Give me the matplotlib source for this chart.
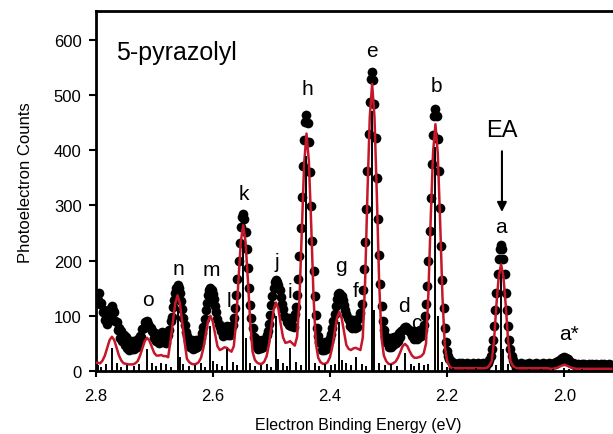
import numpy as np
import matplotlib.pyplot as plt

plt.rcParams['font.family'] = ['Liberation Sans', 'DejaVu Sans']

# photoelectron counts, 2 meV steps starting at 2.800 eV
counts = [
    125, 138, 128, 142, 122, 124, 106, 110, 92, 96,
    86, 100, 98, 114, 118, 110, 106, 90, 88, 74,
    78, 60, 72, 54, 66, 48, 62, 42, 56, 38,
    52, 40, 54, 40, 54, 44, 58, 50, 64, 62,
    76, 78, 88, 86, 90, 86, 82, 78, 72, 70,
    60, 68, 54, 66, 50, 66, 56, 70, 52, 64,
    50, 62, 66, 74, 90, 98, 116, 128, 142, 150,
    155, 150, 142, 126, 112, 96, 84, 70, 64, 54,
    56, 44, 56, 40, 54, 42, 56, 44, 56, 50,
    60, 68, 80, 94, 110, 124, 138, 146, 150, 147,
    140, 130, 118, 106, 94, 86, 80, 72, 76, 64,
    80, 68, 82, 66, 80, 66, 76, 84, 96, 114,
    138, 167, 200, 232, 260, 279, 285, 275, 252, 221,
    186, 151, 120, 96, 78, 62, 60, 46, 56, 40,
    54, 42, 56, 44, 56, 54, 66, 73, 86, 102,
    119, 136, 151, 161, 165, 162, 156, 146, 134, 122,
    112, 100, 98, 88, 92, 84, 96, 82, 94, 80,
    103, 116, 137, 167, 208, 259, 315, 371, 418, 451,
    463, 450, 414, 361, 299, 236, 181, 135, 101, 78,
    63, 52, 50, 38, 50, 38, 52, 40, 52, 52,
    59, 67, 77, 90, 104, 118, 131, 139, 142, 140,
    135, 128, 119, 111, 103, 96, 92, 82, 92, 78,
    92, 78, 92, 80, 94, 96, 105, 122, 147, 184,
    234, 294, 362, 430, 488, 528, 542, 527, 484, 422,
    349, 276, 211, 158, 118, 91, 74, 63, 52, 56,
    44, 60, 44, 60, 48, 62, 50, 64, 54, 68,
    62, 72, 74, 78, 80, 79, 76, 76, 70, 71,
    64, 72, 58, 70, 58, 72, 62, 74, 64, 75,
    84, 99, 121, 154, 199, 253, 314, 375, 427, 462,
    475, 461, 421, 362, 295, 226, 165, 115, 78, 53,
    36, 27, 21, 18, 15, 6, 14, 5, 13, 8,
    15, 5, 12, 14, 4, 13, 8, 15, 6, 13,
    10, 4, 14, 7, 13, 5, 15, 9, 4, 13,
    8, 14, 6, 11, 14, 15, 20, 27, 39, 57,
    81, 110, 142, 175, 202, 221, 228, 221, 202, 175,
    142, 110, 81, 57, 39, 27, 20, 15, 12, 6,
    13, 4, 11, 14, 5, 10, 13, 4, 12, 7,
    14, 8, 4, 13, 10, 5, 14, 8, 12, 4,
    11, 7, 14, 6, 12, 9, 11, 14, 12, 11,
    13, 14, 13, 16, 17, 18, 20, 21, 23, 24,
    25, 24, 22, 21, 19, 17, 15, 14, 12, 13,
    9, 5, 12, 4, 10, 13, 4, 12, 6, 11,
    3, 12, 7, 4, 13, 8, 5, 12, 4, 10,
    6, 13, 4, 9, 12, 5, 4, 11, 13, 6,
    10,
]

# simulated spectrum (red), 4 meV steps starting at 2.800 eV
sim = [
    15, 15, 14, 19, 28, 42, 56, 62, 56, 42,
    28, 19, 14, 13, 12, 12, 12, 14, 18, 28,
    41, 54, 60, 55, 44, 33, 28, 28, 29, 27,
    27, 25, 55, 89, 122, 137, 122, 88, 53, 22,
    16, 13, 12, 13, 16, 24, 41, 65, 90, 100,
    90, 67, 45, 38, 40, 43, 42, 38, 35, 45,
    90, 166, 235, 264, 234, 165, 88, 35, 20, 15,
    13, 13, 17, 27, 48, 80, 111, 124, 113, 85,
    61, 51, 52, 54, 50, 46, 62, 130, 255, 375,
    430, 381, 266, 135, 50, 24, 16, 13, 13, 16,
    25, 43, 70, 96, 107, 96, 71, 47, 40, 38,
    41, 42, 40, 38, 60, 160, 322, 460, 520, 460,
    320, 160, 60, 28, 18, 13, 12, 14, 17, 24,
    34, 45, 49, 45, 36, 28, 24, 24, 25, 27,
    32, 50, 140, 277, 396, 447, 394, 272, 135, 45,
    18, 9, 5, 5, 5, 5, 5, 5, 5, 5,
    5, 5, 5, 5, 5, 5, 5, 6, 10, 18,
    55, 119, 171, 193, 171, 119, 55, 18, 10, 6,
    5, 5, 5, 5, 5, 5, 5, 5, 5, 5,
    5, 5, 5, 5, 4, 4, 5, 6, 8, 10,
    11, 10, 8, 6, 5, 4, 4, 4, 4, 4,
    4, 4, 4, 4, 4, 4, 4, 4, 4, 4,
    4,
]

# stick spectrum (Franck-Condon lines)
stick_eV = [2.772, 2.712, 2.688, 2.660, 2.604, 2.576, 2.548, 2.492, 2.468,
            2.440, 2.384, 2.356, 2.328, 2.272, 2.248, 2.220, 2.108, 2.000,
            2.544, 2.436, 2.324, 2.216, 2.104, 2.656, 2.600, 2.488, 2.380,
            2.796, 2.790, 2.782, 2.764, 2.756, 2.746, 2.734, 2.726, 2.704,
            2.696, 2.680, 2.672, 2.650, 2.640, 2.630, 2.620, 2.614, 2.592,
            2.584, 2.566, 2.558, 2.536, 2.528, 2.518, 2.508, 2.500, 2.480,
            2.474, 2.458, 2.450, 2.426, 2.418, 2.408, 2.398, 2.392, 2.372,
            2.364, 2.346, 2.338, 2.316, 2.306, 2.296, 2.286, 2.262, 2.256,
            2.240, 2.232, 2.208, 2.200, 2.190, 2.170, 2.150, 2.130, 2.116,
            2.096, 2.086, 2.060, 2.040, 2.020, 1.992, 1.970, 1.950]
stick_h = [42, 40, 15, 115, 82, 40, 235, 100, 42,
           390, 88, 25, 470, 33, 14, 405, 175, 6,
           60, 95, 110, 100, 40, 25, 18, 22, 20,
           10, 8, 12, 14, 8, 10, 9, 12, 14,
           9, 12, 8, 12, 9, 11, 14, 8, 12,
           9, 16, 10, 14, 9, 11, 13, 8, 14,
           9, 16, 10, 14, 9, 12, 10, 13, 14,
           10, 12, 9, 14, 10, 12, 9, 12, 9,
           11, 13, 16, 8, 5, 4, 5, 4, 10,
           12, 5, 4, 4, 3, 3, 3, 2]

# peak labels
peak_names = ['o', 'n', 'm', 'l', 'k', 'j', 'i', 'h', 'g', 'f', 'e', 'd',
              'c', 'b', 'a', 'a*']
peak_eV = [2.711, 2.659, 2.603, 2.573, 2.546, 2.490, 2.468, 2.439, 2.382,
           2.357, 2.329, 2.274, 2.253, 2.218, 2.108, 1.992]
peak_y = [120, 176, 173, 118, 312, 188, 134, 502, 182, 136, 571, 109, 78,
          508, 252, 58]

e_data = 2.800 - 0.002 * np.arange(len(counts))
e_sim = 2.800 - 0.004 * np.arange(len(sim))

fig = plt.figure(figsize=(6.13, 4.35), dpi=100)
ax = fig.add_axes([0.1558, 0.1448, 0.8442, 0.8276])

ax.plot(e_data, counts, 'o', color='black', ms=7, mec='none', zorder=2)
ax.plot(e_sim, sim, '-', color='#c4182a', lw=1.8, zorder=3)
ax.vlines(stick_eV, 0, stick_h, color='black', lw=1.4, zorder=4)

for name, x, y in zip(peak_names, peak_eV, peak_y):
    ax.text(x, y, name, ha='center', va='baseline', fontsize=15)

ax.text(0.0396, 0.867, '5-pyrazolyl', transform=ax.transAxes, fontsize=18,
        ha='left', va='baseline')
ax.text(2.1065, 426, 'EA', ha='center', va='baseline', fontsize=17)
ax.annotate('', xy=(2.1065, 288), xytext=(2.1065, 398),
            arrowprops=dict(arrowstyle='-|>', color='black', lw=1.5,
                            mutation_scale=14, shrinkA=0, shrinkB=0))

ax.set_xlim(2.8, 1.917)
ax.set_ylim(0, 652)
ax.set_xticks([2.8, 2.6, 2.4, 2.2, 2.0])
ax.set_xticklabels(['2.8', '2.6', '2.4', '2.2', '2.0'])
ax.set_yticks(range(0, 700, 100))

ax.tick_params(axis='x', direction='out', length=4, width=1.5, pad=8,
               labelsize=12)
ax.tick_params(axis='y', direction='out', length=5, width=1.5, pad=5,
               labelsize=12)
for side in ['left', 'top', 'bottom']:
    ax.spines[side].set_linewidth(2)
ax.spines['right'].set_visible(False)

ax.set_xlabel('Electron Binding Energy (eV)', fontsize=11.5)
ax.set_ylabel('Photoelectron Counts', fontsize=12)
ax.xaxis.set_label_coords(0.507, -0.128)
ax.yaxis.set_label_coords(-0.121, 0.525)

fig.savefig('out.png', dpi=100)
